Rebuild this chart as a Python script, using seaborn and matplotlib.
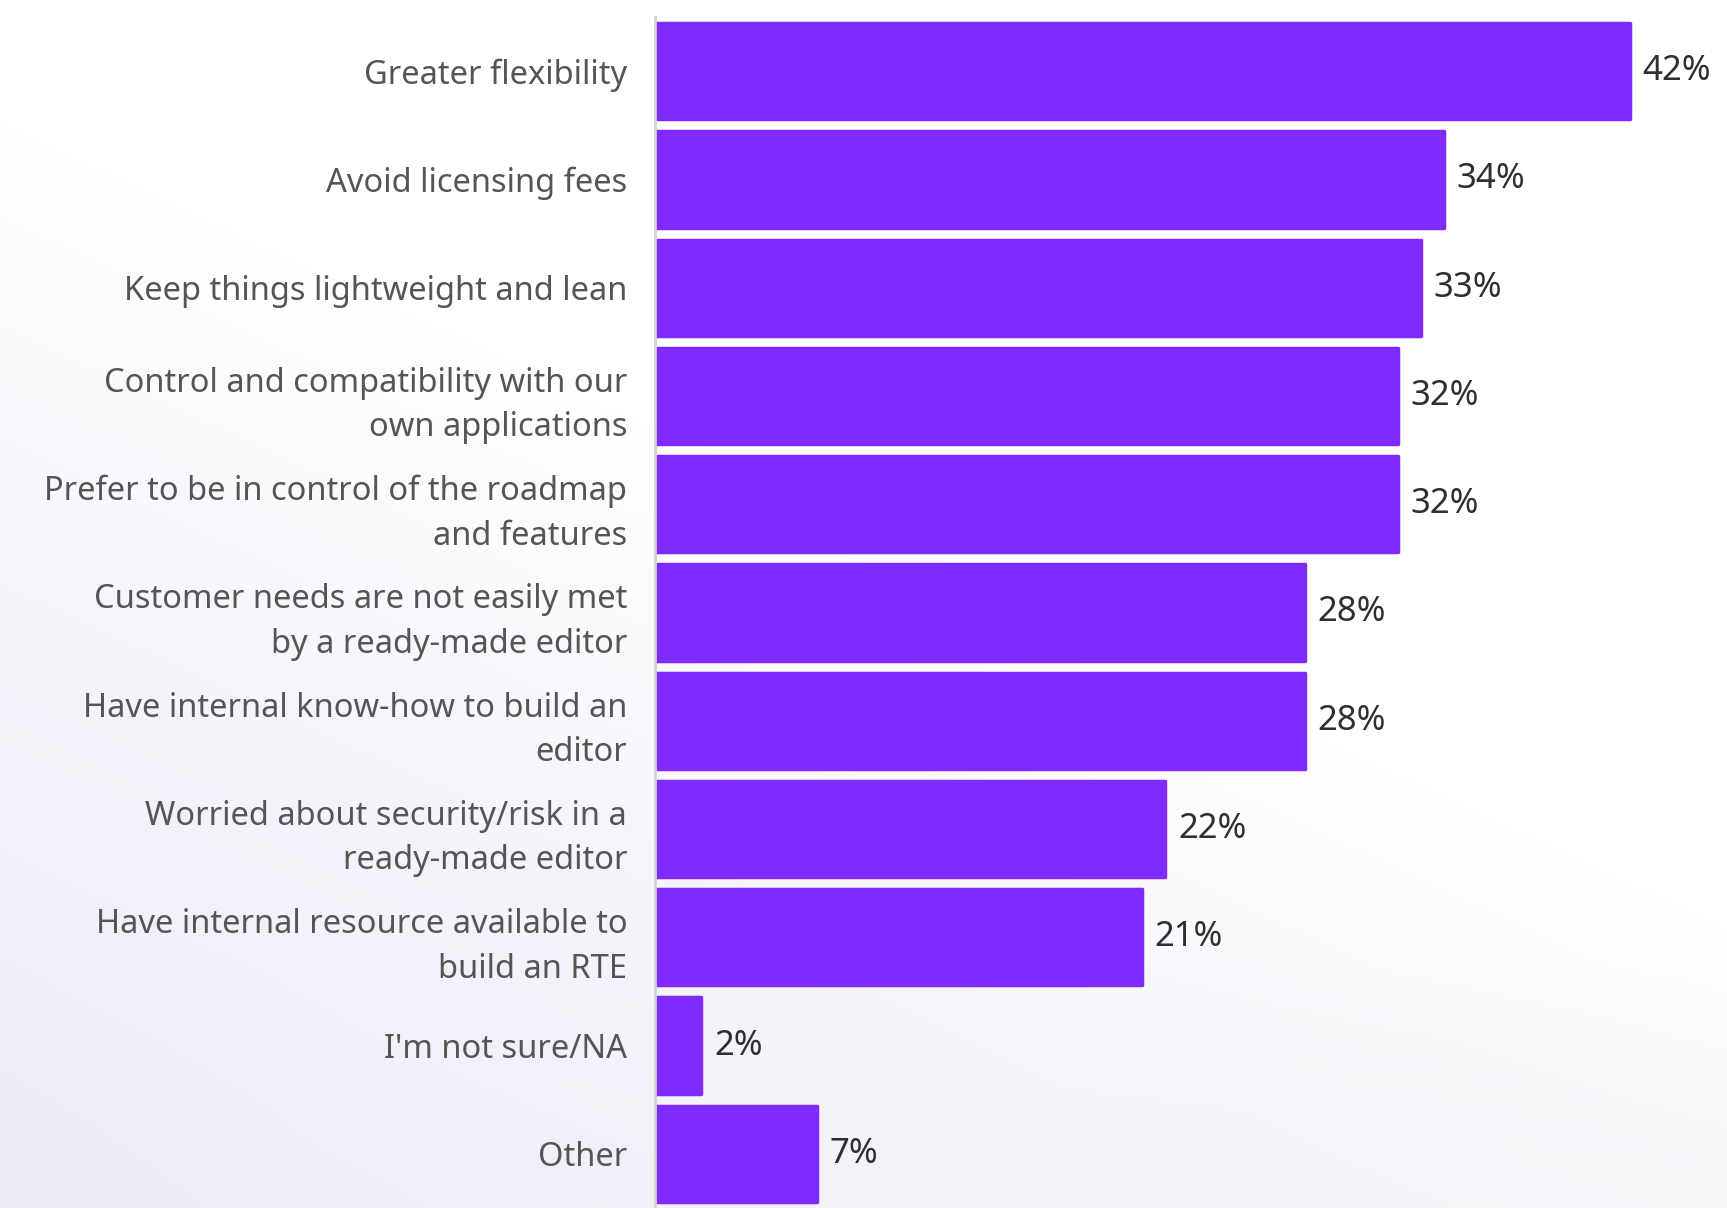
import numpy as np
import pandas as pd
import matplotlib
matplotlib.use("Agg")
import matplotlib.pyplot as plt
from matplotlib.colors import to_rgb
import seaborn as sns

reasons = [
    "Greater flexibility",
    "Avoid licensing fees",
    "Keep things lightweight and lean",
    "Control and compatibility with our\nown applications",
    "Prefer to be in control of the roadmap\nand features",
    "Customer needs are not easily met\nby a ready-made editor",
    "Have internal know-how to build an\neditor",
    "Worried about security/risk in a\nready-made editor",
    "Have internal resource available to\nbuild an RTE",
    "I'm not sure/NA",
    "Other",
]
shares = [42, 34, 33, 32, 32, 28, 28, 22, 21, 2, 7]

BAR_COLOR = "#7F2BFF"
LABEL_COLOR = "#555555"
VALUE_COLOR = "#2f2f2f"
FONT = ["Noto Sans", "DejaVu Sans"]

sns.set_theme(style="white")
plt.rcParams["font.family"] = FONT

W, H = 1727, 1208
fig = plt.figure(figsize=(W / 100, H / 100), dpi=100)
fig.patch.set_facecolor("white")

# soft lavender wash in the lower-left of the canvas
bg = fig.add_axes([0, 0, 1, 1], zorder=-10)
yy, xx = np.mgrid[0:1:300j, 0:1:430j]
w_lav = np.clip(1.2 * yy - 0.8 * xx - 0.12, 0, 1) ** 0.9
w_mint = np.clip((yy - 0.8) * 4, 0, 1) * np.clip(xx * 1.2, 0, 1) * 0.6
white = np.array([1.0, 1.0, 1.0])
lav = np.array(to_rgb("#eeebf7"))
mint = np.array(to_rgb("#f1f6f6"))
img = white[None, None, :] * (1 - w_lav[..., None]) + lav[None, None, :] * w_lav[..., None]
img = img * (1 - w_mint[..., None]) + mint[None, None, :] * w_mint[..., None]
bg.imshow(img, aspect="auto", extent=[0, 1, 0, 1], origin="upper")
bg.set_axis_off()

ax = fig.add_axes([655 / W, 0.0, 1 - 655 / W, 1 - 17 / H])
ax.patch.set_alpha(0)

df = pd.DataFrame({"reason": reasons, "share": shares})
sns.barplot(data=df, x="share", y="reason", orient="h", color=BAR_COLOR,
            saturation=1, width=0.89, ax=ax)

# slightly softened bar corners
for bar in ax.patches:
    bar.set_edgecolor(BAR_COLOR)
    bar.set_linewidth(2.5)
    bar.set_joinstyle("round")

ax.set_xlim(0, 46.2)
ax.set_ylim(len(reasons) - 0.5, -0.5)
ax.set_xlabel("")
ax.set_ylabel("")
ax.set_xticks([])

for container in ax.containers:
    ax.bar_label(container, labels=[f"{v:.0f}%" for v in shares], padding=9,
                 fontsize=25, color=VALUE_COLOR, family=FONT)

ax.tick_params(axis="y", length=0, pad=20, labelsize=23.5, labelcolor=LABEL_COLOR)
for t in ax.get_yticklabels():
    t.set_linespacing(1.45)
    t.set_horizontalalignment("right")

for side in ["top", "right", "bottom"]:
    ax.spines[side].set_visible(False)
ax.spines["left"].set_color("#d2d2d2")
ax.spines["left"].set_linewidth(2)
ax.spines["left"].set_zorder(5)

fig.savefig("out.png", dpi=100, facecolor=fig.get_facecolor())
